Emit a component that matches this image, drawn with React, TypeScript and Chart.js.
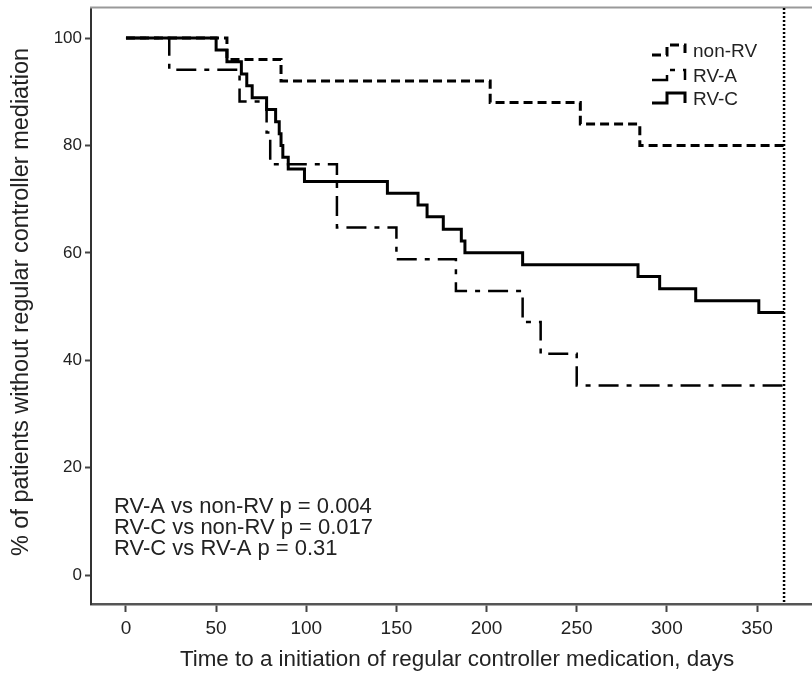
import React, { useEffect, useRef } from "react";
import { Chart, registerables } from "chart.js";

Chart.register(...registerables);

// ---- data ----
const xTicks = [0, 50, 100, 150, 200, 250, 300, 350];
const yTicks = [0, 20, 40, 60, 80, 100];
const followUpDay = 365;

const nonRvDays = [0, 56, 86, 202, 252, 285, 365];
const nonRvPct = [100, 96, 92, 88, 84, 80, 80];

const rvADays = [0, 24, 63, 78, 80, 117, 150, 183, 220, 230, 250, 365];
const rvAPct = [100, 94.1, 88.2, 82.4, 76.5, 64.7, 58.8, 52.9, 47.1, 41.2, 35.3, 35.3];

const rvCDays = [0, 50, 56, 64, 67, 70, 78, 83, 85, 86, 87, 90, 99, 145, 162, 167, 176, 186, 188, 220, 284, 296, 316, 351, 365];
const rvCPct = [100, 97.8, 95.6, 93.3, 91.1, 88.9, 86.7, 84.4, 82.2, 80.0, 77.8, 75.6, 73.3, 71.1, 68.9, 66.7, 64.4, 62.2, 60.0, 57.8, 55.6, 53.3, 51.1, 48.9, 48.9];

const seriesLabels = ["non-RV", "RV-A", "RV-C"];
const pValueLines = [
  "RV-A vs non-RV p = 0.004",
  "RV-C vs non-RV p = 0.017",
  "RV-C vs RV-A p = 0.31",
];
const xTitle = "Time to a initiation of regular controller medication, days";
const yTitle = "% of patients without regular controller mediation";

const FONT = '"Liberation Sans", Arial, Helvetica, sans-serif';
const NARROW = '"Liberation Sans Narrow", "Arial Narrow", "Liberation Sans", Arial, sans-serif';

const toPoints = (xs: number[], ys: number[]) => xs.map((x, i) => ({ x, y: ys[i] }));

const overlayPlugin = {
  id: "overlay",
  afterDraw(chart: any) {
    const ctx = chart.ctx as CanvasRenderingContext2D;
    const { chartArea } = chart;
    const xs = chart.scales.x;
    ctx.save();

    // top frame line
    ctx.strokeStyle = "#999";
    ctx.lineWidth = 2;
    ctx.beginPath();
    ctx.moveTo(chartArea.left - 1, chartArea.top - 0.5);
    ctx.lineTo(chart.width, chartArea.top - 0.5);
    ctx.stroke();

    // follow-up end dotted line
    const fx = xs.getPixelForValue(followUpDay);
    ctx.strokeStyle = "#000";
    ctx.lineWidth = 2.5;
    ctx.setLineDash([2, 2]);
    ctx.beginPath();
    ctx.moveTo(fx, chartArea.top);
    ctx.lineTo(fx, chartArea.bottom);
    ctx.stroke();
    ctx.setLineDash([]);

    // legend
    const rows = [57, 82, 105];
    chart.data.datasets.forEach((ds: any, i: number) => {
      const base = rows[i];
      const yLow = base - 2;
      const yTop = base - 12;
      ctx.strokeStyle = "#000";
      ctx.lineWidth = ds.borderWidth;
      ctx.setLineDash(ds.borderDash || []);
      ctx.beginPath();
      ctx.moveTo(652, yLow);
      ctx.lineTo(667, yLow);
      ctx.lineTo(667, yTop);
      ctx.lineTo(685, yTop);
      ctx.lineTo(685, yLow);
      ctx.stroke();
      ctx.setLineDash([]);
      ctx.fillStyle = "#222";
      ctx.font = `19px ${FONT}`;
      ctx.textAlign = "left";
      ctx.textBaseline = "alphabetic";
      ctx.fillText(ds.label, 693, base);
    });

    // p-values
    ctx.font = `22px ${FONT}`;
    ctx.fillStyle = "#222";
    ctx.textAlign = "left";
    ctx.textBaseline = "alphabetic";
    pValueLines.forEach((t, i) => ctx.fillText(t, 114, 513 + i * 21));

    // axis titles
    ctx.font = `22.4px ${FONT}`;
    ctx.textAlign = "center";
    ctx.fillText(xTitle, 457, 666);

    ctx.save();
    ctx.translate(22, 302);
    ctx.rotate(-Math.PI / 2);
    ctx.font = `23.5px ${FONT}`;
    ctx.textBaseline = "middle";
    ctx.fillText(yTitle, 0, 0);
    ctx.restore();

    ctx.restore();
  },
};

export default function App() {
  const ref = useRef<HTMLCanvasElement | null>(null);

  useEffect(() => {
    if (!ref.current) return;
    const chart = new Chart(ref.current, {
      type: "line",
      data: {
        datasets: [
          {
            label: seriesLabels[0],
            data: toPoints(nonRvDays, nonRvPct),
            borderColor: "#000",
            borderWidth: 3,
            borderDash: [9, 5],
            stepped: "before",
            pointRadius: 0,
            fill: false,
          },
          {
            label: seriesLabels[1],
            data: toPoints(rvADays, rvAPct),
            borderColor: "#000",
            borderWidth: 2.5,
            borderDash: [20, 8, 5, 8],
            stepped: "before",
            pointRadius: 0,
            fill: false,
          },
          {
            label: seriesLabels[2],
            data: toPoints(rvCDays, rvCPct),
            borderColor: "#000",
            borderWidth: 3,
            stepped: "before",
            pointRadius: 0,
            fill: false,
          },
        ],
      },
      options: {
        responsive: false,
        animation: false,
        layout: { padding: { top: 8, right: 0, left: 0, bottom: 0 } },
        plugins: { legend: { display: false }, tooltip: { enabled: false } },
        scales: {
          x: {
            type: "linear",
            min: -19.4,
            max: 380.5,
            afterBuildTicks: (s: any) => {
              s.ticks = xTicks.map((v) => ({ value: v }));
            },
            afterFit: (s: any) => {
              s.height = 73;
              s.paddingLeft = 0;
              s.paddingRight = 0;
            },
            ticks: {
              autoSkip: false,
              maxRotation: 0,
              padding: 5,
              color: "#222",
              font: { family: NARROW, size: 19 },
            },
            grid: {
              display: true,
              drawOnChartArea: false,
              drawTicks: true,
              tickLength: 8,
              tickColor: "#444",
              tickWidth: 2,
            },
            border: { display: true, color: "#555", width: 2.5 },
          },
          y: {
            type: "linear",
            min: -5.4,
            max: 105.6,
            afterBuildTicks: (s: any) => {
              s.ticks = yTicks.map((v) => ({ value: v }));
            },
            afterFit: (s: any) => {
              s.width = 91;
              s.paddingTop = 0;
              s.paddingBottom = 0;
            },
            ticks: {
              autoSkip: false,
              padding: 3,
              color: "#222",
              font: { family: FONT, size: 17 },
            },
            grid: {
              display: true,
              drawOnChartArea: false,
              drawTicks: true,
              tickLength: 6,
              tickColor: "#444",
              tickWidth: 2,
            },
            border: { display: true, color: "#333", width: 2 },
          },
        },
      },
      plugins: [overlayPlugin],
    });
    return () => chart.destroy();
  }, []);

  return (
    <div style={{ position: "absolute", left: 0, top: 0, width: 812, height: 677, background: "#fff" }}>
      <canvas ref={ref} width={812} height={677} style={{ display: "block" }} />
    </div>
  );
}
